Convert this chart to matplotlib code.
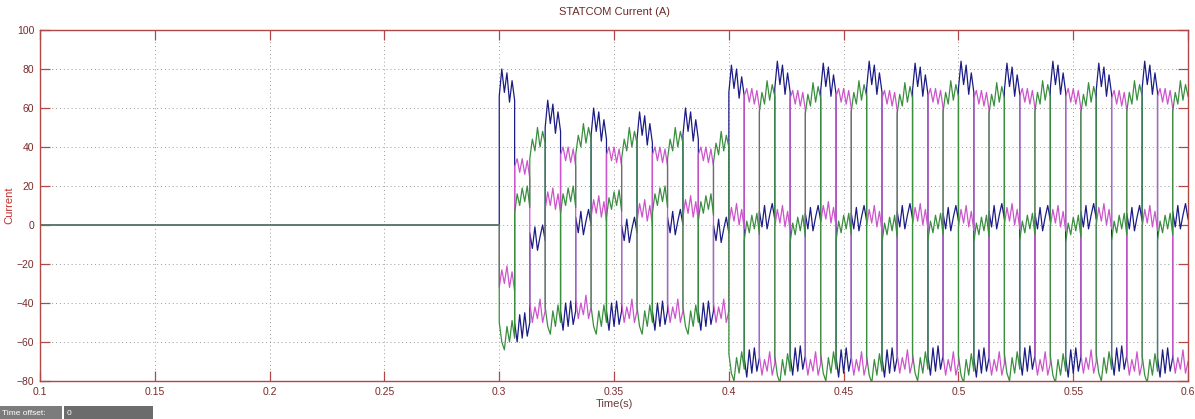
import numpy as np
import matplotlib.pyplot as plt
from matplotlib.patches import Rectangle

# STATCOM current, three phases
title = "STATCOM Current (A)"
x_ticks = [0.1, 0.15, 0.2, 0.25, 0.3, 0.35, 0.4, 0.45, 0.5, 0.55, 0.6]
x_tick_labels = ["0.1", "0.15", "0.2", "0.25", "0.3", "0.35", "0.4", "0.45", "0.5", "0.55", "0.6"]
y_ticks = [-80, -60, -40, -20, 0, 20, 40, 60, 80, 100]

# before the STATCOM switches in, all currents sit at zero
pre_time = [0.1, 0.3]
pre_value = [0, 0]

# switching instants (s): one phase jumps top -> bottom at each of them
switch_times = [0.300, 0.3067, 0.3133, 0.320, 0.3267, 0.3333, 0.340, 0.3467, 0.3533, 0.360,
                0.3667, 0.3733, 0.380, 0.3867, 0.3933, 0.400, 0.4067, 0.4133, 0.420, 0.4267,
                0.4333, 0.440, 0.4467, 0.4533, 0.460, 0.4667, 0.4733, 0.480, 0.4867, 0.4933,
                0.500, 0.5067, 0.5133, 0.520, 0.5267, 0.5333, 0.540, 0.5467, 0.5533, 0.560,
                0.5667, 0.5733, 0.580, 0.5867, 0.5933, 0.600]

# phase sitting in the upper band, in turn
top_order = ["blue", "magenta", "green"]

# mean level of each band for every interval between switchings
top_level = [66, 30, 40, 50, 36, 42, 46, 36, 40, 44, 36, 40, 46, 36, 38,
             68, 66, 64, 70, 65, 63, 69, 66, 64, 70, 65, 63, 69, 66, 64,
             70, 65, 63, 69, 66, 64, 70, 66, 63, 69, 65, 64, 70, 66, 64]
bot_level = [-52, -48, -40, -44, -42, -38, -44, -42, -40, -44, -42, -40, -44, -42, -40,
             -68, -66, -67, -69, -65, -67, -68, -66, -67, -69, -66, -66, -68, -65, -67,
             -69, -66, -67, -68, -65, -67, -69, -66, -66, -68, -65, -67, -69, -66, -66]
mid_level = [-30, 14, -8, 10, 14, 0, 6, 12, -4, 4, 14, 0, 6, 10, -4,
             2, 0, 3, 1, -1, 2, 3, 0, 2, 1, -1, 3, 2, 0, 2,
             1, -1, 3, 2, 0, 2, 1, -1, 3, 2, 0, 2, 1, 0, 3]

# ripple riding on each band, per phase
top_ripple = {"blue":    [0, 14, 2, 12, -3, 8, -2],
              "magenta": [0, 4, -3, 4, -4, 3, -6],
              "green":   [-6, 4, -2, 10, 0, 8, 2]}
bot_ripple = {"blue":    [-2, -12, 2, -10, 3, -9, -2],
              "magenta": [0, -10, -2, -8, 2, -10, -4],
              "green":   [2, -8, -12, 0, -8, 3, -6]}
mid_ripple = {"blue":    [4, -4, 7, -5, 2, 8, 0],
              "magenta": [-2, 7, 0, 9, -2, 6, -4],
              "green":   [-8, 2, -4, 5, -2, 6, -5]}

colors = {"blue": "#1c1c86", "magenta": "#cc55cc", "green": "#3a8f3f"}


def phase_series(name):
    t = list(pre_time)
    v = list(pre_value)
    for k in range(len(switch_times) - 1):
        if top_order[k % 3] == name:
            lev, rip = top_level[k], top_ripple[name]
        elif top_order[(k - 1) % 3] == name:
            lev, rip = bot_level[k], bot_ripple[name]
        else:
            lev, rip = mid_level[k], mid_ripple[name]
        ts = np.linspace(switch_times[k], switch_times[k + 1], len(rip))
        t.extend(ts)
        v.extend(lev + np.array(rip))
    return np.array(t), np.array(v)


fig = plt.figure(figsize=(11.95, 4.19), dpi=100)
ax = fig.add_axes([0.0335, 0.0907, 0.9607, 0.8377])

for name in ["blue", "magenta", "green"]:
    t, v = phase_series(name)
    ax.plot(t, v, color=colors[name], lw=0.9)

ax.set_xlim(0.1, 0.6)
ax.set_ylim(-80, 100)
ax.set_xticks(x_ticks)
ax.set_xticklabels(x_tick_labels)
ax.set_yticks(y_ticks)
ax.grid(True, color="#9a9a9a", linestyle=(0, (1, 3)), linewidth=0.7)

spine_col = "#b04848"
for s in ax.spines.values():
    s.set_color(spine_col)
    s.set_linewidth(1.0)
ax.tick_params(direction="in", length=7, width=0.9, color=spine_col,
               top=True, right=True, labelsize=7.5, labelcolor="#7a2a2a", pad=4)
for lab in ax.get_xticklabels() + ax.get_yticklabels():
    lab.set_family("Liberation Sans")

ax.set_title(title, fontsize=8, color="#6b2a2a", family="Liberation Sans", pad=11)
ax.set_xlabel("Time(s)", fontsize=8, color="#6b3a3a", family="Liberation Sans", labelpad=2)
ax.set_ylabel("Current", fontsize=8, color="#c03030", family="Liberation Sans", labelpad=2)

# "Time offset" strip in the bottom-left corner
fig.patches.append(Rectangle((0, 0), 62 / 1195, 13 / 419, transform=fig.transFigure,
                             facecolor="#7c7c7c", edgecolor="none"))
fig.patches.append(Rectangle((64 / 1195, 0), 89 / 1195, 13 / 419, transform=fig.transFigure,
                             facecolor="#6c6c6c", edgecolor="none"))
fig.text(2 / 1195, 6 / 419, "Time offset:", fontsize=6, color="white",
         va="center", family="Liberation Sans")
fig.text(67 / 1195, 6 / 419, "0", fontsize=6, color="white",
         va="center", family="Liberation Sans")

fig.savefig("out.png", dpi=100)
